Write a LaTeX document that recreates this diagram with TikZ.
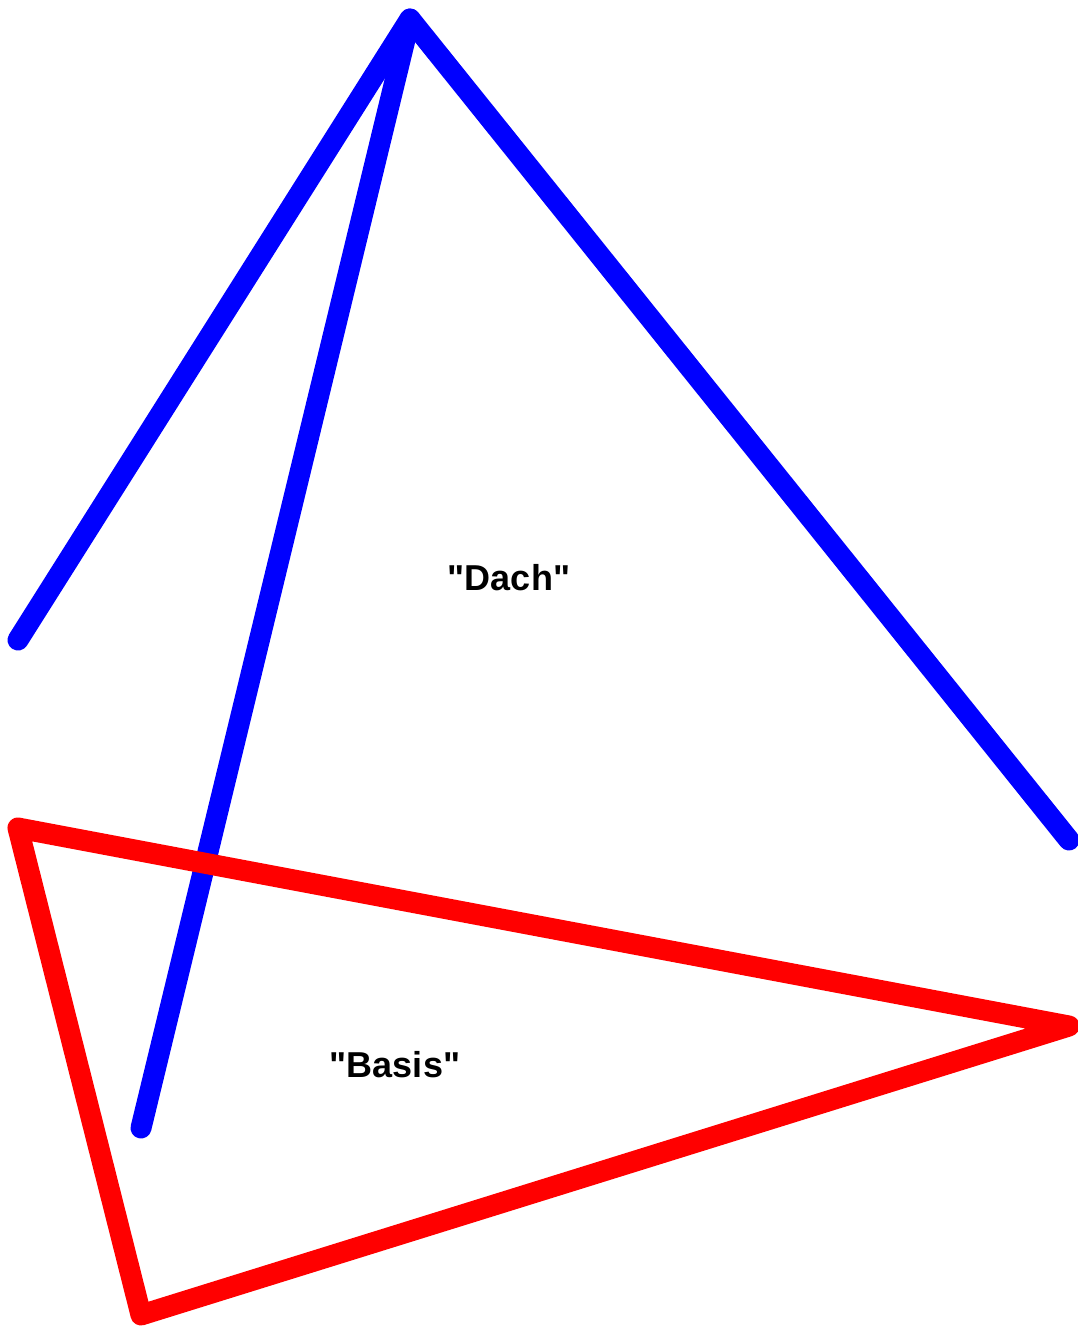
\documentclass[tikz,border=0pt]{standalone}
\usepackage{fontspec}
\setmainfont{Liberation Sans}[Ligatures=TeXOff]
\usepackage{tikz}
\usetikzlibrary{positioning}

\begin{document}
\begin{tikzpicture}[x=1pt, y=-1pt,
    edge/.style={line width=21pt, line cap=round, line join=round},
    label/.style={font=\fontsize{36}{40}\selectfont\bfseries}]
  \useasboundingbox (0,0) rectangle (1078,1327);
  \clip (0,0) rectangle (1078,1327);

  % Dach
  \coordinate (dl) at (18,640);
  \coordinate (top) at (410,19);
  \coordinate (dr) at (1069,840);
  \coordinate (foot) at (141,1128);
  \draw[edge, blue] (dl) -- (top) -- (dr);
  \draw[edge, blue] (top) -- (foot);
  \node[label] (dach) at (509,578) {"Dach"};

  % Basis
  \coordinate (bl) at (18,828);
  \coordinate (br) at (1069,1026);
  \coordinate (bb) at (141,1315);
  \draw[edge, red] (bl) -- (br) -- (bb) -- cycle;
  \node[label] (basis) at (395,1065) {"Basis"};
\end{tikzpicture}
\end{document}
